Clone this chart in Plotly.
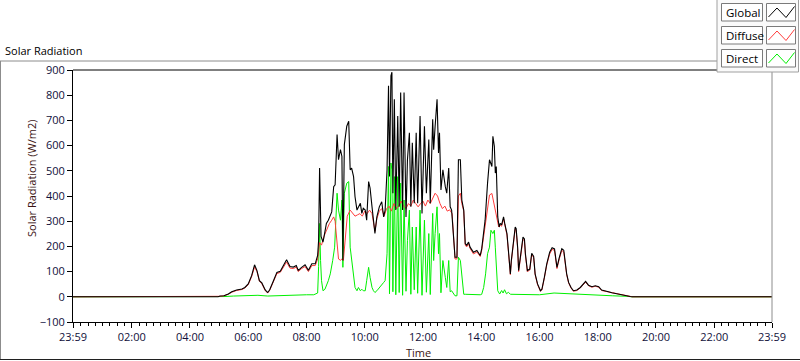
import plotly.graph_objects as go

# ---------------- data ----------------
tick_labels = ["23:59", "02:00", "04:00", "06:00", "08:00", "10:00", "12:00",
               "14:00", "16:00", "18:00", "20:00", "22:00", "23:59"]
y_ticks = [-100, 0, 100, 200, 300, 400, 500, 600, 700, 800, 900]

global_time = ["23:59", "04:58", "05:02", "05:10", "05:19", "05:26", "05:36", "05:47", "05:53",
               "06:00", "06:07", "06:13", "06:18", "06:23", "06:28", "06:35", "06:40", "06:44",
               "06:52", "06:59", "07:06", "07:12", "07:19", "07:26", "07:33", "07:39", "07:43",
               "07:50", "07:57", "08:04", "08:11", "08:18", "08:23", "08:25", "08:27", "08:30",
               "08:34", "08:36", "08:41", "08:45", "08:52", "08:56", "08:59", "09:03", "09:06",
               "09:10", "09:13", "09:15", "09:18", "09:23", "09:27", "09:30", "09:33", "09:37",
               "09:40", "09:44", "09:47", "09:51", "09:54", "09:57", "10:01", "10:04", "10:08",
               "10:11", "10:15", "10:18", "10:21", "10:25", "10:30", "10:35", "10:39", "10:42",
               "10:46", "10:49", "10:51", "10:54", "10:56", "10:58", "11:01", "11:04", "11:08",
               "11:11", "11:14", "11:18", "11:21", "11:25", "11:28", "11:32", "11:35", "11:38",
               "11:42", "11:46", "11:49", "11:54", "11:58", "12:03", "12:07", "12:12", "12:15",
               "12:20", "12:22", "12:25", "12:29", "12:32", "12:34", "12:37", "12:41", "12:46",
               "12:49", "12:53", "12:56", "12:59", "13:03", "13:06", "13:10", "13:13", "13:17",
               "13:20", "13:24", "13:27", "13:30", "13:34", "13:37", "13:41", "13:44", "13:51",
               "13:58", "14:01", "14:08", "14:13", "14:17", "14:22", "14:24", "14:27", "14:29",
               "14:31", "14:34", "14:37", "14:39", "14:42", "14:46", "14:49", "14:53", "14:56",
               "15:00", "15:02", "15:05", "15:10", "15:12", "15:15", "15:17", "15:22", "15:26",
               "15:29", "15:31", "15:35", "15:40", "15:44", "15:48", "15:51", "15:56", "16:02",
               "16:05", "16:10", "16:15", "16:21", "16:26", "16:31", "16:34", "16:36", "16:41",
               "16:46", "16:50", "16:53", "16:56", "17:00", "17:05", "17:10", "17:17", "17:24",
               "17:31", "17:35", "17:41", "17:48", "17:55", "18:02", "18:08", "18:16", "18:22",
               "18:29", "18:40", "18:53", "19:07", "19:11", "23:59"]
global_vals = [0, 0, 3, 4, 11, 20, 27, 31, 37,
               51, 84, 127, 104, 64, 55, 27, 17, 27,
               64, 97, 101, 124, 147, 120, 118, 124, 105,
               117, 127, 105, 131, 131, 164, 224, 511, 240,
               217, 237, 291, 304, 337, 437, 444, 644, 544,
               584, 557, 144, 604, 677, 697, 504, 511, 477,
               397, 344, 357, 371, 331, 351, 344, 304, 457,
               431, 357, 291, 251, 317, 357, 377, 317, 344,
               504, 837, 477, 877, 891, 411, 784, 344, 717,
               357, 811, 344, 811, 317, 544, 651, 357, 611,
               371, 651, 371, 717, 331, 677, 411, 624, 371,
               704, 584, 677, 784, 571, 651, 424, 504, 437,
               411, 511, 357, 344, 237, 157, 157, 544, 544,
               384, 344, 211, 204, 217, 197, 184, 177, 184,
               164, 191, 304, 451, 544, 517, 637, 597, 491,
               517, 317, 277, 291, 285, 317, 285, 251, 184,
               91, 144, 197, 277, 270, 197, 104, 171, 237,
               230, 171, 104, 110, 173, 160, 91, 51, 24,
               30, 77, 131, 177, 195, 190, 144, 117, 157,
               191, 185, 131, 91, 57, 37, 24, 27, 37,
               51, 61, 46, 40, 44, 40, 27, 24, 20,
               16, 11, 6, 1, 0, 0]

diffuse_time = ["23:59", "04:58", "05:02", "05:10", "05:19", "05:26", "05:36", "05:47", "05:53",
                "06:00", "06:07", "06:13", "06:18", "06:23", "06:28", "06:35", "06:40", "06:44",
                "06:52", "06:59", "07:06", "07:12", "07:19", "07:26", "07:33", "07:39", "07:43",
                "07:50", "07:57", "08:04", "08:11", "08:18", "08:23", "08:27", "08:31", "08:36",
                "08:41", "08:47", "08:52", "08:56", "08:59", "09:03", "09:06", "09:10", "09:13",
                "09:16", "09:20", "09:24", "09:30", "09:35", "09:40", "09:45", "09:50", "09:55",
                "10:00", "10:05", "10:10", "10:15", "10:18", "10:21", "10:25", "10:30", "10:35",
                "10:40", "10:45", "10:50", "10:55", "11:00", "11:05", "11:10", "11:15", "11:20",
                "11:25", "11:30", "11:35", "11:40", "11:45", "11:50", "11:55", "12:00", "12:05",
                "12:10", "12:15", "12:20", "12:25", "12:30", "12:35", "12:40", "12:45", "12:50",
                "12:55", "13:00", "13:03", "13:06", "13:10", "13:13", "13:17", "13:20", "13:24",
                "13:27", "13:30", "13:34", "13:37", "13:41", "13:44", "13:51", "13:58", "14:01",
                "14:08", "14:13", "14:17", "14:22", "14:25", "14:29", "14:32", "14:36", "14:39",
                "14:42", "14:46", "14:49", "14:53", "14:56", "15:00", "15:02", "15:05", "15:10",
                "15:12", "15:15", "15:17", "15:22", "15:26", "15:29", "15:31", "15:35", "15:40",
                "15:44", "15:48", "15:51", "15:56", "16:02", "16:05", "16:10", "16:15", "16:21",
                "16:26", "16:31", "16:34", "16:36", "16:41", "16:46", "16:50", "16:53", "16:56",
                "17:00", "17:05", "17:10", "17:17", "17:24", "17:31", "17:35", "17:41", "17:48",
                "17:55", "18:02", "18:08", "18:16", "18:22", "18:29", "18:40", "18:53", "19:07",
                "19:11", "23:59"]
diffuse_vals = [0, 0, 2, 4, 10, 18, 25, 29, 35,
                48, 80, 118, 100, 62, 52, 25, 15, 25,
                60, 92, 97, 118, 138, 114, 112, 118, 100,
                112, 120, 100, 124, 124, 150, 215, 205, 240,
                264, 290, 304, 317, 300, 200, 150, 145, 150,
                145, 250, 320, 344, 330, 320, 325, 330, 320,
                340, 330, 344, 330, 290, 260, 310, 340, 350,
                320, 350, 360, 340, 370, 350, 360, 380, 360,
                350, 370, 360, 384, 370, 357, 370, 380, 360,
                384, 370, 390, 411, 400, 370, 350, 360, 340,
                345, 330, 251, 150, 150, 400, 411, 370, 340,
                205, 198, 210, 192, 180, 170, 178, 160, 185,
                290, 344, 404, 410, 384, 350, 317, 277, 285,
                280, 310, 280, 245, 180, 88, 140, 190, 270,
                262, 192, 100, 165, 228, 222, 165, 100, 106,
                168, 155, 88, 48, 22, 28, 74, 127, 170,
                188, 184, 140, 112, 152, 184, 178, 127, 88,
                55, 35, 22, 25, 35, 48, 58, 44, 38,
                42, 38, 25, 22, 18, 15, 10, 5, 1,
                0, 0]

direct_time = ["23:59", "04:58", "05:10", "05:30", "06:00", "06:20", "06:40", "07:00", "07:20",
               "07:40", "08:00", "08:15", "08:20", "08:23", "08:25", "08:27", "08:29", "08:31",
               "08:34", "08:38", "08:45", "08:49", "08:54", "08:58", "09:03", "09:06", "09:10",
               "09:13", "09:15", "09:18", "09:23", "09:27", "09:30", "09:33", "09:37", "09:40",
               "09:44", "09:47", "09:51", "09:54", "09:57", "10:01", "10:04", "10:08", "10:11",
               "10:15", "10:18", "10:21", "10:25", "10:30", "10:35", "10:39", "10:42", "10:46",
               "10:49", "10:51", "10:54", "10:56", "10:58", "11:01", "11:04", "11:08", "11:11",
               "11:14", "11:18", "11:21", "11:25", "11:28", "11:32", "11:35", "11:38", "11:42",
               "11:46", "11:49", "11:54", "11:58", "12:03", "12:07", "12:12", "12:15", "12:20",
               "12:22", "12:25", "12:29", "12:32", "12:34", "12:37", "12:41", "12:46", "12:49",
               "12:53", "12:56", "12:59", "13:03", "13:06", "13:10", "13:13", "13:17", "13:20",
               "13:24", "13:27", "13:40", "13:58", "14:01", "14:05", "14:09", "14:13", "14:17",
               "14:20", "14:24", "14:27", "14:29", "14:32", "14:34", "14:38", "14:42", "14:45",
               "14:48", "14:52", "14:56", "15:00", "15:30", "16:00", "16:30", "17:00", "17:30",
               "18:00", "18:30", "19:00", "19:10", "23:59"]
direct_vals = [0, 0, 1, 3, 4, 6, 3, 5, 6,
               7, 8, 8, 12, 15, 120, 291, 144, 64,
               24, 30, 64, 91, 144, 197, 411, 344, 304,
               384, 117, 411, 451, 457, 197, 144, 91, 37,
               24, 37, 24, 30, 24, 24, 64, 117, 77,
               37, 24, 17, 24, 37, 51, 57, 64, 171,
               517, 12, 531, 504, 20, 477, 8, 477, 17,
               451, 6, 384, 22, 224, 344, 10, 277, 28,
               277, 14, 344, 6, 304, 18, 251, 9, 331,
               144, 251, 357, 171, 251, 16, 144, 77, 37,
               144, 20, 24, 10, 4, 4, 157, 144, 77,
               10, 10, 8, 8, 10, 37, 91, 171, 197,
               264, 251, 264, 197, 91, 24, 11, 25, 15,
               28, 12, 18, 10, 10, 8, 15, 12, 8,
               6, 4, 2, 0, 0]


def to_hours(times):
    hs = []
    for s in times:
        h, m = s.split(":")
        hs.append(int(h) + int(m) / 60.0)
    if len(hs) > 1 and hs[0] > hs[1]:
        hs[0] -= 24.0
    return hs


tick_vals = to_hours(tick_labels)
x_min, x_max = tick_vals[0], tick_vals[-1]

# ---------------- pixel geometry helpers ----------------
W, H = 800, 361
L, R, T, B = 73, 772, 70, 322


def px(x):
    return (x - L) / (R - L)


def py(y):
    return (B - y) / (B - T)


FONT = "Open Sans, Noto Sans, DejaVu Sans, sans-serif"
TICK_COLOR = "#10103a"
TITLE_COLOR = "#3c1414"
GREEN = "#00f000"
RED = "#ff3c3c"

fig = go.Figure()
fig.add_trace(go.Scatter(x=to_hours(direct_time), y=direct_vals, mode="lines", name="Direct",
                         line=dict(color=GREEN, width=1), showlegend=False))
fig.add_trace(go.Scatter(x=to_hours(diffuse_time), y=diffuse_vals, mode="lines", name="Diffuse",
                         line=dict(color=RED, width=1), showlegend=False))
fig.add_trace(go.Scatter(x=to_hours(global_time), y=global_vals, mode="lines", name="Global",
                         line=dict(color="#000000", width=1.1), showlegend=False))

shapes = []
annotations = []

# outer panel frame
shapes.append(dict(type="line", xref="paper", yref="paper", x0=px(0), x1=px(717), y0=py(61), y1=py(61),
                   line=dict(color="#8c8c8c", width=1)))
shapes.append(dict(type="line", xref="paper", yref="paper", x0=px(0.5), x1=px(0.5), y0=py(61), y1=py(360),
                   line=dict(color="#8c8c8c", width=1)))
shapes.append(dict(type="line", xref="paper", yref="paper", x0=px(0), x1=px(800), y0=py(359.5), y1=py(359.5),
                   line=dict(color="#202020", width=1)))
# plot frame (top black, right gray)
shapes.append(dict(type="line", xref="paper", yref="paper", x0=0, x1=1, y0=1, y1=1,
                   line=dict(color="#000000", width=1)))
shapes.append(dict(type="line", xref="paper", yref="paper", x0=1, x1=1, y0=0, y1=1,
                   line=dict(color="#8c8c8c", width=1)))

# legend panel
shapes.append(dict(type="rect", xref="paper", yref="paper", x0=px(717), x1=px(798.5), y0=py(72), y1=py(-1),
                   line=dict(color="#a0a0a0", width=1), fillcolor="#fafafa"))
legend_items = [("Global", "#000000"), ("Diffuse", RED), ("Direct", GREEN)]
for i, (name, col) in enumerate(legend_items):
    top = 3.5 + i * 23
    bot = top + 17.5
    shapes.append(dict(type="rect", xref="paper", yref="paper", x0=px(721.5), x1=px(762.5),
                       y0=py(bot), y1=py(top), line=dict(color="#7a7a7a", width=1), fillcolor="#ffffff"))
    shapes.append(dict(type="rect", xref="paper", yref="paper", x0=px(766.5), x1=px(795.5),
                       y0=py(bot), y1=py(top), line=dict(color="#7a7a7a", width=1), fillcolor="#ffffff"))
    pts = [(768.5, bot - 4), (777, top + 4.5), (786, bot - 3.5), (794.5, top + 3)]
    path = "M " + " L ".join(f"{px(a):.5f},{py(b):.5f}" for a, b in pts)
    shapes.append(dict(type="path", xref="paper", yref="paper", path=path,
                       line=dict(color=col, width=1)))
    annotations.append(dict(xref="paper", yref="paper", x=px(723.5), y=py((top + bot) / 2),
                            text=name, showarrow=False, xanchor="left", yanchor="middle",
                            font=dict(family=FONT, size=11.5, color="#000000")))

# chart title
annotations.append(dict(xref="paper", yref="paper", x=px(3), y=py(50), text="Solar Radiation",
                        showarrow=False, xanchor="left", yanchor="middle",
                        font=dict(family=FONT, size=11, color="#000000")))
# axis titles
annotations.append(dict(xref="paper", yref="paper", x=px(31), y=py(179), text="Solar Radiation (W/m2)",
                        showarrow=False, xanchor="center", yanchor="middle", textangle=-90,
                        font=dict(family=FONT, size=11, color=TITLE_COLOR)))
annotations.append(dict(xref="paper", yref="paper", x=px(418), y=py(352), text="Time",
                        showarrow=False, xanchor="center", yanchor="middle",
                        font=dict(family=FONT, size=11, color=TITLE_COLOR)))

fig.update_layout(
    width=W, height=H, autosize=False,
    margin=dict(l=L, r=W - R, t=T, b=H - B, pad=0),
    paper_bgcolor="#ffffff", plot_bgcolor="#ffffff",
    shapes=shapes, annotations=annotations,
    showlegend=False,
    xaxis=dict(range=[x_min, x_max], tickmode="array", tickvals=tick_vals, ticktext=tick_labels,
               showgrid=False, zeroline=False, showline=True, linecolor="#000000", linewidth=1,
               ticks="outside", ticklen=5, tickcolor="#000000", tickwidth=1,
               tickfont=dict(family=FONT, size=11, color=TICK_COLOR),
               minor=dict(ticks="outside", ticklen=3, tickcolor="#000000", dtick=0.25, tick0=0,
                          showgrid=False),
               fixedrange=True),
    yaxis=dict(range=[-100, 900], tickmode="array", tickvals=y_ticks,
               showgrid=False, zeroline=False, showline=True, linecolor="#000000", linewidth=1,
               ticks="outside", ticklen=5, tickcolor="#000000", tickwidth=1,
               tickfont=dict(family=FONT, size=11, color=TICK_COLOR),
               fixedrange=True),
)

fig.write_html("out.html", config={"displayModeBar": False},
               post_script="document.body.style.margin='0px';document.body.style.overflow='hidden';")
